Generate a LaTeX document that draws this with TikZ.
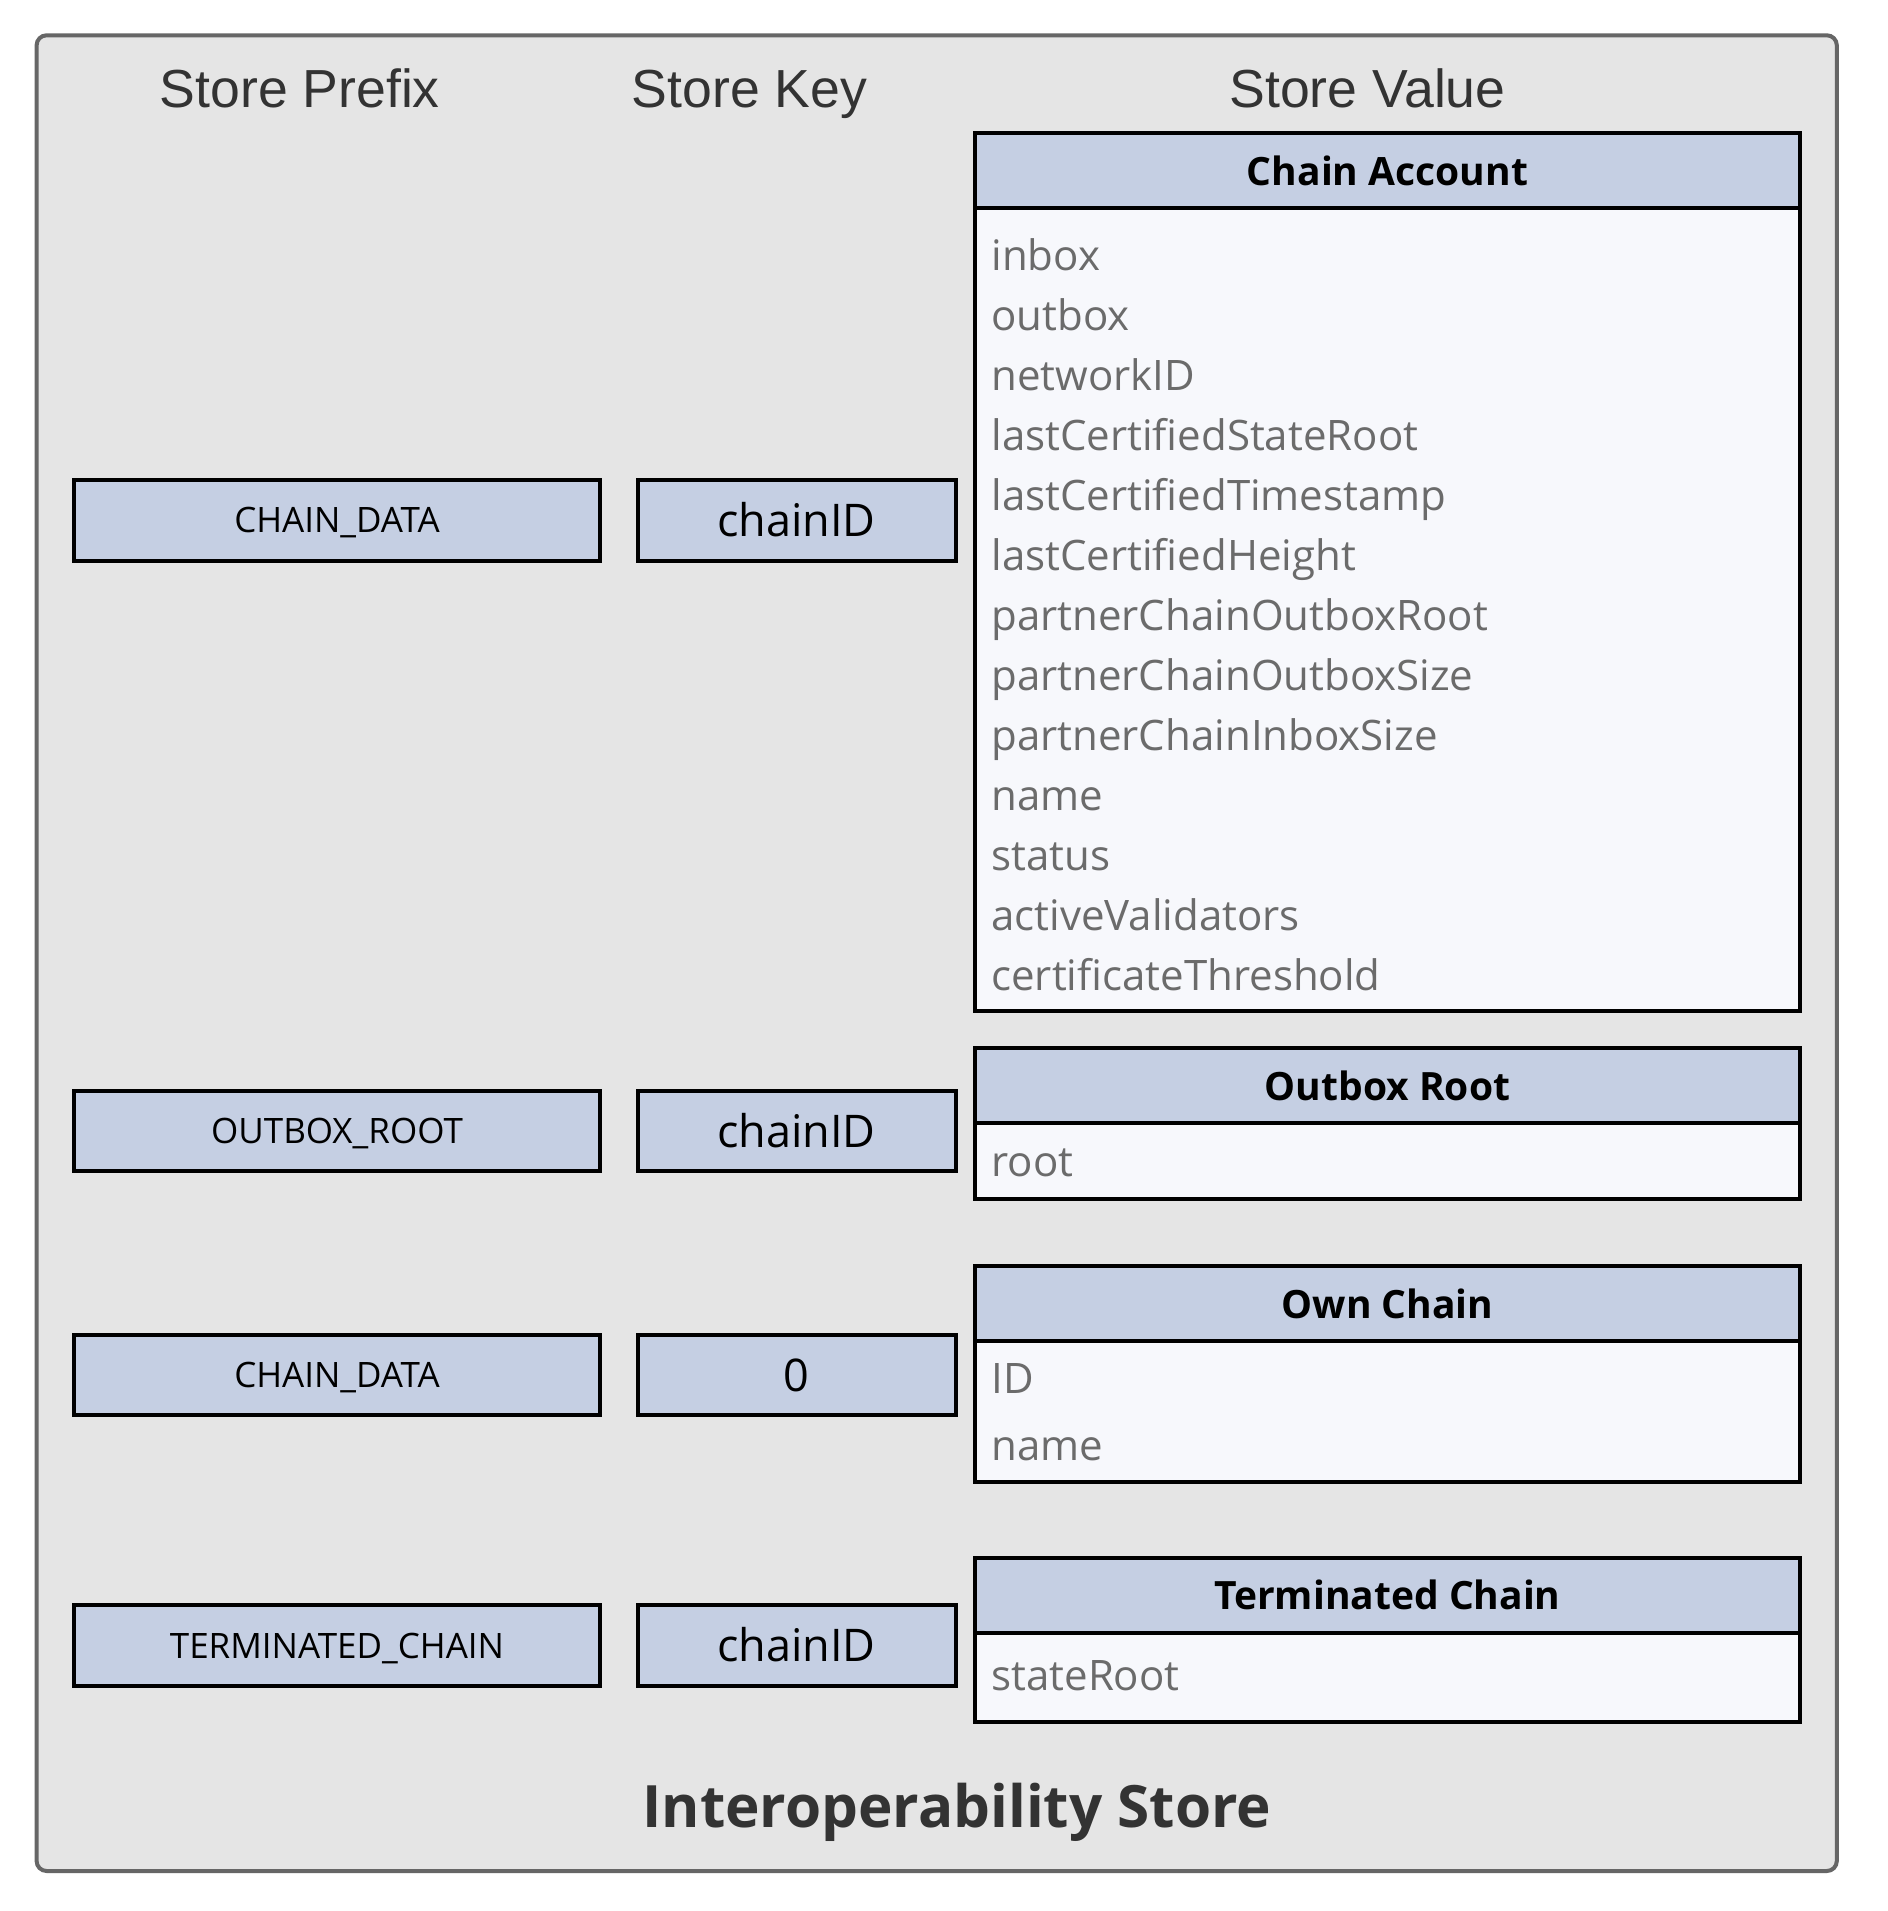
\documentclass[tikz,border=0pt]{standalone}
\usepackage{fontspec}
\setmainfont{Open Sans}
\newfontfamily\headfont{Liberation Sans}
\definecolor{bgc}{HTML}{E5E5E5}
\definecolor{framec}{HTML}{666666}
\definecolor{boxc}{HTML}{C5CFE3}
\definecolor{bodyc}{HTML}{F7F8FC}
\definecolor{fieldc}{HTML}{6B6B6B}
\definecolor{darkc}{HTML}{333333}
\tikzset{
  colhead/.style={font=\headfont\fontsize{26.8}{30}\selectfont, text=darkc, text height=19.6pt, text depth=0pt, inner sep=0pt},
  prefixbox/.style={draw=black, line width=2pt, fill=boxc, minimum width=262.7pt, minimum height=40.3pt, inner sep=0pt, outer sep=0pt, font=\fontsize{17.5}{20}\selectfont, text height=12.6pt, text depth=0pt},
  keybox/.style={draw=black, line width=2pt, fill=boxc, minimum width=159pt, minimum height=40.3pt, inner sep=0pt, outer sep=0pt, font=\fontsize{22.5}{26}\selectfont, text height=16.2pt, text depth=0pt},
  valhead/.style={draw=black, line width=2pt, fill=boxc, minimum width=412.5pt, minimum height=37.5pt, inner sep=0pt, outer sep=0pt, anchor=north, font=\bfseries\fontsize{19.5}{23}\selectfont},
  valbody/.style={draw=black, line width=2pt, fill=bodyc, minimum width=412.5pt, inner sep=0pt, outer sep=0pt, anchor=north},
  field/.style={anchor=west, inner sep=0pt, text=fieldc, font=\fontsize{21}{25}\selectfont, text height=7.5pt, text depth=2.5pt},
  titlestyle/.style={text=darkc, font=\bfseries\fontsize{29.2}{34}\selectfont, text height=21pt, text depth=0pt, inner sep=0pt}
}
\begin{document}
\begin{tikzpicture}[x=0.5pt,y=-0.5pt]
\useasboundingbox (0,0) rectangle (1888,1911);
\fill[white] (0,0) rectangle (1888,1911);
\draw[draw=framec, line width=2pt, fill=bgc, rounded corners=5pt] (36.6,35.3) rectangle (1836.8,1871);

% column heads
\node[colhead] (hprefix) at (299.8,87.8) {Store Prefix};
\node[colhead] (hkey) at (749.6,87.8) {Store Key};
\node[colhead] (hvalue) at (1367.5,87.8) {Store Value};

% prefix and key boxes
\node[prefixbox] (p1) at (337,520.3) {CHAIN\_DATA};
\node[keybox] (k1) at (796.5,520.3) {chainID};
\node[prefixbox] (p2) at (337,1131.1) {OUTBOX\_ROOT};
\node[keybox] (k2) at (796.5,1131.1) {chainID};
\node[prefixbox] (p3) at (337,1374.9) {CHAIN\_DATA};
\node[keybox] (k3) at (796.5,1374.9) {0};
\node[prefixbox] (p4) at (337,1645.5) {TERMINATED\_CHAIN};
\node[keybox] (k4) at (796.5,1645.5) {chainID};

% value boxes
\node[valhead] (v1h) at (1387.5,132.9) {Chain Account};
\node[valbody, minimum height=401.6pt] (v1b) at (v1h.south) {};
\node[valhead] (v2h) at (1387.5,1048.2) {Outbox Root};
\node[valbody, minimum height=37.75pt] (v2b) at (v2h.south) {};
\node[valhead] (v3h) at (1387.5,1266.4) {Own Chain};
\node[valbody, minimum height=70.1pt] (v3b) at (v3h.south) {};
\node[valhead] (v4h) at (1387.5,1557.7) {Terminated Chain};
\node[valbody, minimum height=44.45pt] (v4b) at (v4h.south) {};

% fields
\foreach \t [count=\i from 0] in {inbox,outbox,networkID,lastCertifiedStateRoot,lastCertifiedTimestamp,lastCertifiedHeight,partnerChainOutboxRoot,partnerChainOutboxSize,partnerChainInboxSize,name,status,activeValidators,certificateThreshold}
  \node[field] (fa\i) at (991,265.5+60*\i) {\t};
\node[field] (fb0) at (991,1171) {root};
\node[field] (fc0) at (991,1388) {ID};
\node[field] (fc1) at (991,1455) {name};
\node[field] (fd0) at (991,1685.5) {stateRoot};

\node[titlestyle] (title) at (956.8,1806.3) {Interoperability Store};
\end{tikzpicture}
\end{document}
